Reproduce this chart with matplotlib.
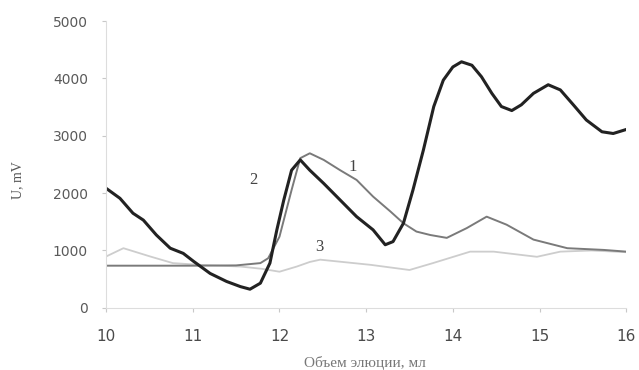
import matplotlib
matplotlib.use("Agg")
import matplotlib.pyplot as plt

# Кривая 1 (серая)
x1 = [10.0, 10.5, 11.0, 11.5, 11.78, 11.87, 12.0, 12.14, 12.24, 12.35, 12.51, 12.7, 12.89, 13.08, 13.28, 13.43, 13.58, 13.74,
      13.93, 14.16, 14.39, 14.62, 14.93, 15.32, 15.74, 16.0]
y1 = [735, 735, 735, 740, 780, 865, 1240, 2055, 2610, 2695, 2580, 2400, 2230, 1940, 1680, 1475, 1330, 1270,
      1220, 1390, 1590, 1450, 1190, 1040, 1010, 980]

# Кривая 2 (черная)
x2 = [10.0, 10.16, 10.31, 10.43, 10.58, 10.74, 10.89, 11.01, 11.2, 11.39, 11.55, 11.66, 11.78, 11.89, 11.97, 12.05, 12.14,
      12.24, 12.35, 12.51, 12.7, 12.89, 13.08, 13.22, 13.31, 13.43, 13.54, 13.66, 13.78, 13.89, 14.0, 14.1, 14.22,
      14.33, 14.45, 14.56, 14.68, 14.79, 14.93, 15.1, 15.24, 15.39, 15.54, 15.72, 15.85, 16.0]
y2 = [2085, 1910, 1650, 1530, 1270, 1040, 950, 810, 600, 460, 370, 325, 430, 780, 1360, 1880, 2400,
      2580, 2400, 2170, 1880, 1590, 1360, 1100, 1155, 1475, 2055, 2750, 3510, 3970, 4200, 4290, 4230,
      4030, 3740, 3510, 3440, 3540, 3740, 3890, 3800, 3540, 3275, 3070, 3040, 3110]

# Кривая 3 (светлая)
x3 = [10.0, 10.2, 10.51, 10.77, 11.08, 11.55, 11.8, 12.0, 12.2, 12.35, 12.47, 13.05, 13.5, 13.77, 14.2, 14.47, 14.97,
      15.24, 15.6, 16.0]
y3 = [895, 1040, 895, 780, 750, 720, 680, 630, 720, 800, 840, 750, 660, 780, 980, 980, 890,
      980, 1000, 970]

xticks = [10, 11, 12, 13, 14, 15, 16]
yticks = [0, 1000, 2000, 3000, 4000, 5000]

fig = plt.figure(figsize=(6.39, 3.70), dpi=100)
ax = fig.add_axes([0.166, 0.168, 0.814, 0.775])

ax.plot(x3, y3, color='#cdcdcd', lw=1.3, solid_joinstyle='round')
ax.plot(x1, y1, color='#7a7a7a', lw=1.4, solid_joinstyle='round')
ax.plot(x2, y2, color='#222222', lw=2.2, solid_joinstyle='round')

ax.set_xlim(10, 16)
ax.set_ylim(0, 5000)
ax.set_xticks(xticks)
ax.set_yticks(yticks)
ax.tick_params(axis='x', labelsize=11, colors='#c8c8c8', labelcolor='#4a4a4a', length=3, pad=12)
ax.tick_params(axis='y', labelsize=10, colors='#c8c8c8', labelcolor='#5a5a5a', length=3, pad=10)

for s in ['top', 'right']:
    ax.spines[s].set_visible(False)
for s in ['left', 'bottom']:
    ax.spines[s].set_color('#dddddd')

# подписи кривых
ax.text(11.70, 2230, '2', fontsize=12, family='Liberation Serif', color='#444444', ha='center', va='center')
ax.text(12.85, 2456, '1', fontsize=12, family='Liberation Serif', color='#444444', ha='center', va='center')
ax.text(12.46, 1066, '3', fontsize=12, family='Liberation Serif', color='#444444', ha='center', va='center')

fig.text(18/639, 1 - 180/370, 'U, mV', rotation=90, ha='center', va='center',
         fontsize=10, family='Liberation Serif', color='#555555')
fig.text(365/639, 1 - 363/370, 'Объем элюции, мл', ha='center', va='center',
         fontsize=11, family='Liberation Serif', color='#777777')

fig.savefig('out.png', dpi=100)
